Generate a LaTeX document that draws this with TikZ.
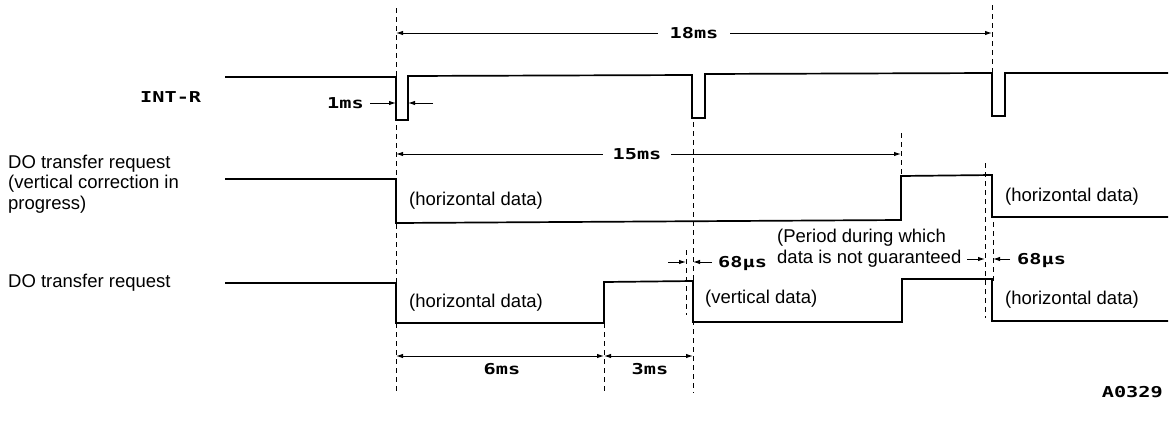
\documentclass[tikz,border=0pt]{standalone}
\usepackage{fontspec}
\usepackage{graphicx}
\usetikzlibrary{arrows.meta,positioning}
\setmainfont{Liberation Sans}
\newfontfamily\plotfont{DejaVu Sans Mono}
\newcommand{\plt}[1]{{\plotfont\bfseries\fontsize{15}{17}\selectfont\scalebox{1.35}[1]{#1}}}

\begin{document}
\begin{tikzpicture}[x=1pt,y=-1pt, >={Latex[length=7pt,width=4.5pt]},
 sig/.style={line width=1.7pt},
 guide/.style={line width=.9pt,dash pattern=on 5pt off 4pt},
 dim/.style={line width=1pt},
 txt/.style={font=\fontsize{18.5}{20.5}\selectfont,inner sep=0pt,align=left},
 tag/.style={inner sep=0pt}]
\useasboundingbox (0,0) rectangle (1169,421);

% signal names
\node[tag,anchor=west] (intr) at (140,97) {\plt{INT-R}};
\node[txt,anchor=west] (dov) at (8,184) {DO transfer request\\(vertical correction in\\progress)};
\node[txt,anchor=west] (do) at (8,283) {DO transfer request};

% waveforms
\draw[sig] (225,77) -- (396,77) -- (396,120) -- (408,120) -- (408,76) -- (692,75) -- (692,118)
 -- (705,118) -- (705,74) -- (992,73) -- (992,116) -- (1005,116) -- (1005,73) -- (1168,73);
\draw[sig] (225,179) -- (396,179) -- (396,223) -- (901,220) -- (901,176) -- (992,175)
 -- (992,217) -- (1168,217);
\draw[sig] (225,283) -- (396,283) -- (396,323) -- (604,323) -- (604,282) -- (693,281)
 -- (693,322) -- (902,322) -- (902,279) -- (992,279) -- (992,321) -- (1168,321);

% guide lines
\draw[guide] (396,8) -- (396,393);
\draw[guide] (693,122) -- (693,393);
\draw[guide] (604,323) -- (604,393);
\draw[guide] (992,5) -- (992,73);
\draw[guide] (901,133) -- (901,176);
\draw[guide] (686,250) -- (686,315);
\draw[guide] (985,163) -- (985,318);
\draw[guide] (993,222) -- (993,283);

% data labels
\node[txt,anchor=west] (h1) at (409,201) {(horizontal data)};
\node[txt,anchor=west] (h2) at (1005,197) {(horizontal data)};
\node[txt,anchor=west] (h3) at (409,303) {(horizontal data)};
\node[txt,anchor=west] (v1) at (705,299) {(vertical data)};
\node[txt,anchor=west] (h4) at (1005,300) {(horizontal data)};
\node[txt,anchor=west] (per) at (777,248) {(Period during which\\data is not guaranteed};

% timings
\draw[dim,<->] (396,33) -- node[tag,fill=white,inner xsep=12pt] (t18) {\plt{18ms}} (992,33);
\draw[dim,<->] (396,154) -- (901,154);
\node[tag,fill=white,inner xsep=10pt] (t15) at (637,154) {\plt{15ms}};
\node[tag,anchor=east] (t1) at (364,103) {\plt{1ms}};
\draw[dim,->] (370,103) -- (396,103);
\draw[dim,->] (433,103) -- (408,103);
\draw[dim,<->] (396,356) -- (604,356);
\draw[dim,<->] (604,356) -- (693,356);
\node[tag] (t6) at (502,369) {\plt{6ms}};
\node[tag] (t3) at (650,369) {\plt{3ms}};
\draw[dim,->] (668,262) -- (686,262);
\draw[dim,->] (712,262) -- (693,262);
\node[tag,anchor=west] (u1) at (718,263) {\plt{68µs}};
\draw[dim,->] (967,259) -- (985,259);
\draw[dim,->] (1010,259) -- (993,259);
\node[tag,anchor=west] (u2) at (1017,260) {\plt{68µs}};
\node[tag,anchor=east] (ref) at (1163,392) {\plt{A0329}};
\end{tikzpicture}
\end{document}
